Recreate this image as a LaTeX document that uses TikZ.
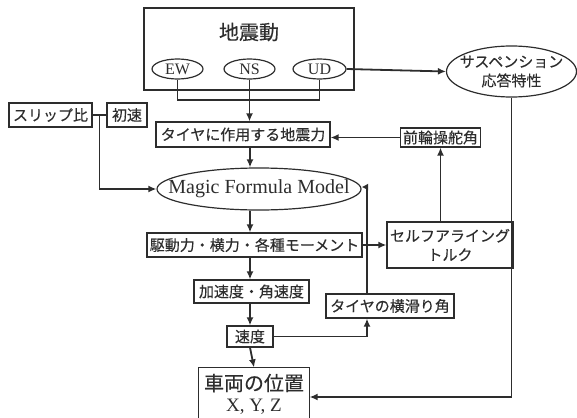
\documentclass[tikz,border=0pt]{standalone}
\usepackage{fontspec}
\setmainfont{Liberation Serif}
\newfontfamily\jp[FakeBold=0.3]{Noto Sans CJK JP}
\usetikzlibrary{shapes.geometric,arrows.meta,calc}
\definecolor{ink}{RGB}{45,45,45}
\tikzset{
  box/.style={draw=ink, line width=1.2pt, rectangle, inner sep=0pt, font=\jp\fontsize{15}{17}\selectfont, text=ink},
  oval/.style={draw=ink, line width=1.2pt, ellipse, inner sep=0pt, text=ink},
  conn/.style={draw=ink, line width=1.8pt},
  arr/.style={conn, -{Latex[length=8pt,width=7pt]}},
  lab/.style={text=ink, inner sep=0pt},
}
\begin{document}
\begin{tikzpicture}[x=1pt,y=-1pt]
\useasboundingbox (0,0) rectangle (577,417);
\clip (0,0) rectangle (577,417);
% top box
\node[box, minimum width=210, minimum height=82] (quake) at (249,49) {};
\node[lab, font=\jp\fontsize{20}{22}\selectfont] (quaketitle) at (249,32) {地震動};
\node[oval, minimum width=51, minimum height=20, label={[lab, font=\fontsize{16}{18}\selectfont]center:EW}] (ew) at (177.5,69) {};
\node[oval, minimum width=51, minimum height=20, label={[lab, font=\fontsize{16}{18}\selectfont]center:NS}] (ns) at (249.5,69) {};
\node[oval, minimum width=53, minimum height=20, label={[lab, font=\fontsize{16}{18}\selectfont]center:UD}] (ud) at (319.5,69) {};
\node[oval, minimum width=130, minimum height=51, label={[lab, align=center, font=\jp\fontsize{15}{19}\selectfont]center:サスペンション\\応答特性}] (susp) at (511.5,71.5) {};
% boxes
\node[box, minimum width=174, minimum height=25] (force) at (243,134.5) {タイヤに作用する地震力};
\node[box, minimum width=80, minimum height=19] (steer) at (440.5,137.5) {前輪操舵角};
\node[box, minimum width=83, minimum height=24] (slip) at (50.5,115) {スリップ比};
\node[box, minimum width=40, minimum height=24] (init) at (127,115) {初速};
\node[oval, minimum width=204, minimum height=42, label={[lab, font=\fontsize{20}{22}\selectfont]center:Magic Formula Model}] (mfm) at (259,189) {};
\node[box, minimum width=215, minimum height=24] (drive) at (254.5,245) {駆動力・横力・各種モーメント};
\node[box, minimum width=126, minimum height=46, align=center, font=\jp\fontsize{15}{19}\selectfont] (sat) at (450,245) {セルフアライング\\トルク};
\node[box, minimum width=115, minimum height=23] (acc) at (251.5,291.5) {加速度・角速度};
\node[box, minimum width=128, minimum height=24] (slipang) at (390,306) {タイヤの横滑り角};
\node[box, minimum width=46, minimum height=21] (vel) at (250,336.5) {速度};
\node[box, draw=none, minimum width=110, minimum height=80] (pos) at (254,408) {};
\draw[draw=ink, line width=1.2pt] (pos.south west) -- (pos.north west) -- (pos.north east) -- (pos.south east);
\node[lab, font=\jp\fontsize{20}{22}\selectfont] (postext) at (254,383) {車両の位置};
\node[lab, font=\fontsize{19}{21}\selectfont] (xyz) at (254,407) {X, Y, Z};
% helper coordinates
\coordinate (jt) at (250,100);
\coordinate (xcol) at (367,0);
\coordinate (yb) at (0,397);
\coordinate (yt) at (0,187);
% connectors
\draw[conn] (ew.south) |- (jt) -| (ud.south);
\draw[arr] (ns.south) -- (force.north -| ns.south);
\draw[arr] (ud.east) -- (susp.west);
\draw[arr] (force.south -| vel.north) -- (mfm.north -| vel.north);
\draw[arr] (steer.west) -- (steer.west -| force.east);
\draw[conn] (slip.east) -- (init.west);
\draw[arr] ($(slip.east)!0.5!(init.west)$) |- (mfm.west);
\draw[conn] (slipang.north -| xcol) -- (xcol |- yt);
\draw[conn, -{Latex[length=6.5pt,width=7pt]}, shorten <=-0.9pt] (xcol |- yt) -- (mfm.east |- yt);
\draw[arr] (mfm.south -| vel.north) -- (drive.north -| vel.north);
\draw[arr] (drive.east) -- (sat.west);
\draw[arr] (sat.north -| steer.south) -- (steer.south);
\draw[arr] (drive.south -| vel.north) -- (acc.north -| vel.north);
\draw[arr] (acc.south -| vel.north) -- (vel.north);
\draw[arr] (vel.east) -| (slipang.south -| xcol);
\draw[arr] (vel.south) -- (pos.north);
\draw[arr] (susp.south) |- (pos.east |- yb);
\end{tikzpicture}
\end{document}
